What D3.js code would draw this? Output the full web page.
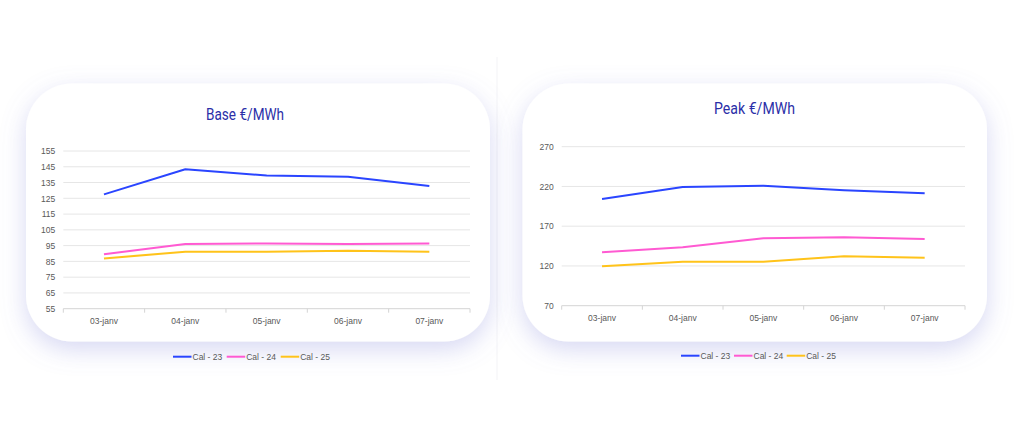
<!DOCTYPE html>
<html>
<head>
<meta charset="utf-8">
<script src="https://cdn.jsdelivr.net/npm/d3@7"></script>
<style>
  html, body { margin: 0; padding: 0; background: #ffffff; }
  svg { display: block; }
</style>
</head>
<body>
<svg id="chart" width="1024" height="444"></svg>
<script>
// ---- data ----
const categories = ["03-janv", "04-janv", "05-janv", "06-janv", "07-janv"];
const seriesNames = ["Cal - 23", "Cal - 24", "Cal - 25"];
const seriesColors = ["#2a45ff", "#ff5ad2", "#ffc31a"];

const baseTitle = "Base €/MWh";
const baseCal23 = [127.5, 143.4, 139.4, 138.7, 132.8];
const baseCal24 = [89.5, 96.0, 96.4, 96.0, 96.4];
const baseCal25 = [86.9, 91.1, 91.1, 91.8, 91.1];
const baseTicks = [55, 65, 75, 85, 95, 105, 115, 125, 135, 145, 155];

const peakTitle = "Peak €/MWh";
const peakCal23 = [204.2, 219.3, 220.9, 215.1, 211.3];
const peakCal24 = [137.1, 143.4, 154.7, 156.0, 153.9];
const peakCal25 = [119.5, 125.3, 125.3, 132.1, 130.4];
const peakTicks = [70, 120, 170, 220, 270];

// ---- drawing ----
const svg = d3.select("#chart");
const defs = svg.append("defs");
const filt = defs.append("filter").attr("id", "shadow")
  .attr("x", "-20%").attr("y", "-20%").attr("width", "140%").attr("height", "150%");
filt.append("feDropShadow")
  .attr("dx", 0).attr("dy", 8).attr("stdDeviation", 12)
  .attr("flood-color", "#7b7fd6").attr("flood-opacity", 0.3);

// faint separator
svg.append("line")
  .attr("x1", 497).attr("x2", 497).attr("y1", 57).attr("y2", 380)
  .attr("stroke", "#f3f3f6").attr("stroke-width", 1);

function drawChart(cfg) {
  const g = svg.append("g");
  // card
  g.append("rect")
    .attr("x", cfg.card[0]).attr("y", cfg.card[1])
    .attr("width", cfg.card[2]).attr("height", cfg.card[3])
    .attr("rx", 46).attr("ry", 46)
    .attr("fill", "#ffffff")
    .attr("filter", "url(#shadow)");

  const x = d3.scaleBand().domain(categories).range(cfg.xRange);
  const y = d3.scaleLinear().domain(cfg.yDomain).range(cfg.yRange);

  // title
  g.append("text")
    .attr("x", cfg.titleX).attr("y", cfg.titleY)
    .attr("text-anchor", "middle")
    .attr("font-family", "Roboto, 'Noto Sans', sans-serif")
    .attr("font-size", 16.5)
    .attr("textLength", cfg.titleLen)
    .attr("lengthAdjust", "spacingAndGlyphs")
    .attr("fill", "#2b2fa8")
    .text(cfg.title);

  // gridlines
  g.append("g").selectAll("line")
    .data(cfg.ticks.slice(1))
    .join("line")
    .attr("x1", cfg.xRange[0]).attr("x2", cfg.xRange[1])
    .attr("y1", d => y(d)).attr("y2", d => y(d))
    .attr("stroke", "#e6e6e6").attr("stroke-width", 1);

  // y axis labels
  const yAxis = d3.axisLeft(y).tickValues(cfg.ticks).tickSize(0).tickPadding(cfg.yPad);
  const ya = g.append("g").attr("transform", `translate(${cfg.xRange[0]},0)`).call(yAxis);
  ya.select(".domain").remove();
  ya.selectAll("text")
    .attr("font-family", "'Liberation Sans', 'Open Sans', sans-serif")
    .attr("font-size", 8.5).attr("fill", "#595959");

  // x axis
  const xAxis = d3.axisBottom(x).tickSize(0).tickPadding(9);
  const xa = g.append("g").attr("transform", `translate(0,${cfg.yRange[0]})`).call(xAxis);
  xa.select(".domain")
    .attr("d", `M${cfg.xRange[0]},0H${cfg.xRange[1]}`)
    .attr("stroke", "#d4d4d4");
  xa.selectAll("text")
    .attr("font-family", "'Liberation Sans', 'Open Sans', sans-serif")
    .attr("font-size", 8.5).attr("fill", "#595959");
  const bounds = categories.map(c => x(c)).concat([cfg.xRange[1]]);
  xa.selectAll("line.bnd").data(bounds).join("line").attr("class", "bnd")
    .attr("x1", d => d).attr("x2", d => d).attr("y1", 0).attr("y2", 4)
    .attr("stroke", "#d4d4d4");

  // lines
  const line = d3.line()
    .x((d, i) => x(categories[i]) + x.bandwidth() / 2)
    .y(d => y(d));
  cfg.series.forEach((s, i) => {
    g.append("path").datum(s)
      .attr("d", line)
      .attr("fill", "none")
      .attr("stroke", seriesColors[i])
      .attr("stroke-width", 2)
      .attr("stroke-linejoin", "round");
  });

  // legend
  const lg = g.append("g");
  seriesNames.forEach((n, i) => {
    const lx = cfg.legendX[i];
    lg.append("line")
      .attr("x1", lx).attr("x2", lx + 18.5)
      .attr("y1", cfg.legendY).attr("y2", cfg.legendY)
      .attr("stroke", seriesColors[i]).attr("stroke-width", 2);
    lg.append("text")
      .attr("x", lx + 19.5).attr("y", cfg.legendY + 3)
      .attr("font-family", "'Liberation Sans', 'Open Sans', sans-serif")
      .attr("font-size", 8.5).attr("fill", "#595959")
      .text(n);
  });
}

drawChart({
  card: [26, 83.5, 464, 258],
  title: baseTitle, titleX: 245, titleY: 120, titleLen: 78,
  xRange: [63.3, 470], yDomain: [55, 155], yRange: [308.7, 151],
  ticks: baseTicks, yPad: 8,
  series: [baseCal23, baseCal24, baseCal25],
  legendX: [173, 226.7, 280.7], legendY: 356.7
});

drawChart({
  card: [522.5, 83.5, 464.5, 258],
  title: peakTitle, titleX: 754.5, titleY: 113.5, titleLen: 81,
  xRange: [561.7, 965], yDomain: [70, 270], yRange: [305.7, 146.7],
  ticks: peakTicks, yPad: 8,
  series: [peakCal23, peakCal24, peakCal25],
  legendX: [681, 734, 786.7], legendY: 355.7
});
</script>
</body>
</html>
